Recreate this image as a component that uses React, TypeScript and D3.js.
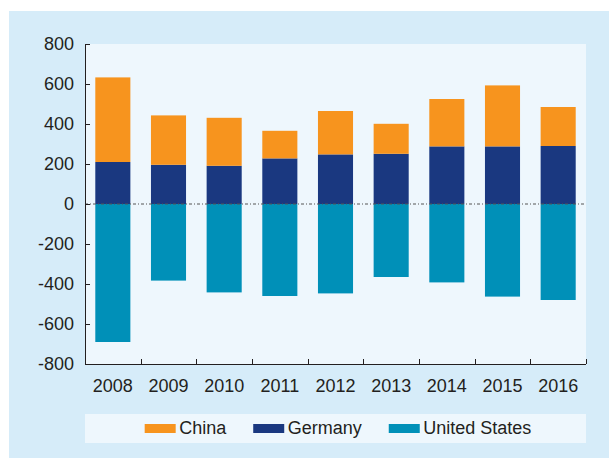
import React, { useEffect, useRef } from "react";
import * as d3 from "d3";

const years = ["2008", "2009", "2010", "2011", "2012", "2013", "2014", "2015", "2016"];
const china = [423, 247, 240, 138, 217, 150, 237, 305, 195];
const germany = [210, 196, 191, 228, 248, 251, 288, 288, 290];
const unitedStates = [-690, -383, -442, -460, -447, -365, -392, -463, -480];
const yTicks = [-800, -600, -400, -200, 0, 200, 400, 600, 800];

const seriesNames = ["China", "Germany", "United States"];
const colors: Record<string, string> = {
  China: "#f7941e",
  Germany: "#1a3880",
  "United States": "#0090b8"
};

const W = 609;
const H = 458;
const textColor = "#231f20";
const font = "'Liberation Sans', Arial, sans-serif";

function App() {
  const ref = useRef<SVGSVGElement>(null);

  useEffect(() => {
    const svg = d3.select(ref.current);
    svg.selectAll("*").remove();

    const left = 85,
      right = 586,
      top = 44,
      bottom = 364;

    // backgrounds
    svg.append("rect").attr("width", W).attr("height", H).attr("fill", "#ffffff");
    svg
      .append("rect")
      .attr("x", 9)
      .attr("y", 11)
      .attr("width", W - 9)
      .attr("height", H - 11)
      .attr("fill", "#d6ecf9");
    svg
      .append("rect")
      .attr("x", left)
      .attr("y", top)
      .attr("width", right - left)
      .attr("height", bottom - top)
      .attr("fill", "#eef7fd");

    const x = d3
      .scaleBand()
      .domain(years)
      .range([left, right])
      .paddingInner(0.37)
      .paddingOuter(0.185);
    const y = d3.scaleLinear().domain([-800, 800]).range([bottom, top]);

    const rows = years.map((yr, i) => ({
      year: yr,
      China: china[i],
      Germany: germany[i],
      "United States": unitedStates[i]
    }));

    const stacked = d3
      .stack<any>()
      .keys(["Germany", "China", "United States"])
      .offset(d3.stackOffsetDiverging)(rows);

    const g = svg.append("g");
    stacked.forEach((s) => {
      g.append("g")
        .attr("fill", colors[s.key])
        .selectAll("rect")
        .data(s)
        .enter()
        .append("rect")
        .attr("x", (d: any) => x(d.data.year)!)
        .attr("width", x.bandwidth())
        .attr("y", (d) => y(Math.max(d[0], d[1])))
        .attr("height", (d) => Math.abs(y(d[0]) - y(d[1])));
    });

    // zero line
    svg
      .append("line")
      .attr("x1", left)
      .attr("x2", right)
      .attr("y1", y(0))
      .attr("y2", y(0))
      .attr("stroke", "#555555")
      .attr("stroke-width", 1)
      .attr("stroke-dasharray", "3,2,1,2");

    // y axis
    const yAxis = svg
      .append("g")
      .attr("transform", "translate(" + left + ",0)")
      .call(
        d3
          .axisLeft(y)
          .tickValues(yTicks)
          .tickFormat((d) => String(d))
          .tickSizeInner(-5)
          .tickSizeOuter(0)
          .tickPadding(11)
      );
    yAxis.select(".domain").attr("stroke", textColor);
    yAxis.selectAll(".tick line").attr("stroke", textColor);
    yAxis
      .selectAll(".tick text")
      .attr("fill", textColor)
      .attr("font-family", font)
      .attr("font-size", 18);

    // x axis
    const gap = (x.step() - x.bandwidth()) / 2;
    const bounds = years.map((yr) => x(yr)! - gap).concat([right]);
    svg
      .append("line")
      .attr("x1", left)
      .attr("x2", right)
      .attr("y1", bottom + 0.5)
      .attr("y2", bottom + 0.5)
      .attr("stroke", textColor);
    svg
      .append("g")
      .selectAll("line")
      .data(bounds)
      .enter()
      .append("line")
      .attr("x1", (d) => Math.round(d) + 0.5)
      .attr("x2", (d) => Math.round(d) + 0.5)
      .attr("y1", bottom)
      .attr("y2", bottom - 5)
      .attr("stroke", textColor);
    svg
      .append("g")
      .selectAll("text")
      .data(years)
      .enter()
      .append("text")
      .attr("x", (d) => x(d)! + x.bandwidth() / 2)
      .attr("y", 391.5)
      .attr("text-anchor", "middle")
      .attr("font-family", font)
      .attr("font-size", 18)
      .attr("fill", textColor)
      .text((d) => d);

    // legend
    svg
      .append("rect")
      .attr("x", left)
      .attr("y", 414)
      .attr("width", right - left)
      .attr("height", 29)
      .attr("fill", "#eef7fd");

    const leg = svg.append("g");
    let cx = 0;
    seriesNames.forEach((name, i) => {
      const item = leg.append("g").attr("transform", "translate(" + cx + ",0)");
      item
        .append("rect")
        .attr("x", 0)
        .attr("y", 424)
        .attr("width", 31)
        .attr("height", 9)
        .attr("fill", colors[name]);
      const t = item
        .append("text")
        .attr("x", 34.5)
        .attr("y", 434)
        .attr("font-family", font)
        .attr("font-size", 18)
        .attr("fill", textColor)
        .text(name);
      const tw = (t.node() as SVGTextElement).getComputedTextLength();
      cx += 34.5 + tw + (i < seriesNames.length - 1 ? 27 : 0);
    });
    const legendCenter = 338;
    leg.attr("transform", "translate(" + (legendCenter - cx / 2) + ",0)");
  });

  return (
    <div style={{ position: "absolute", left: 0, top: 0 }}>
      <svg ref={ref} width={W} height={H} style={{ display: "block" }} />
    </div>
  );
}

export default App;
